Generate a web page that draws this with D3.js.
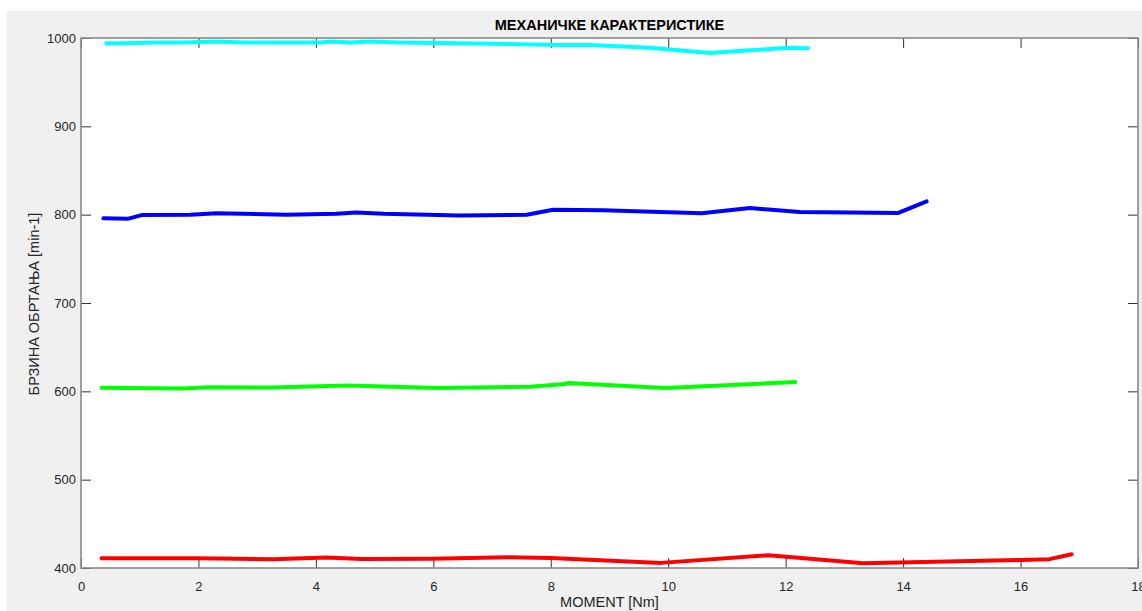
<!DOCTYPE html>
<html>
<head>
<meta charset="utf-8">
<script src="https://cdn.jsdelivr.net/npm/d3@7"></script>
<style>
  html, body { margin: 0; padding: 0; background: #fff; }
  svg { display: block; font-family: "Liberation Sans", Arial, sans-serif; }
</style>
</head>
<body>
<div id="chart"></div>
<script>
// Cyan (top)
const cyanX = [0.43, 0.75, 1.26, 1.77, 2.28, 2.79, 3.56, 4.07, 4.24, 4.58, 4.92, 5.43, 6.45, 7.48, 8.16, 8.67, 9.69, 10.71, 11.39, 12.07, 12.38];
const cyanY = [994, 994, 995, 995, 996, 995, 995, 995, 996, 995, 996, 995, 994, 993, 992, 992, 989, 983, 986, 989, 988.5];
// Blue
const blueX = [0.38, 0.81, 1.03, 1.86, 2.31, 3.50, 4.35, 4.69, 5.15, 6.45, 7.59, 8.04, 8.89, 10.57, 11.39, 12.24, 13.92, 14.40];
const blueY = [796, 795.5, 799.5, 800, 801.5, 800, 801, 802.5, 801, 799, 800, 805.5, 805, 801.5, 807.5, 803, 802, 815];
// Green
const greenX = [0.35, 1.74, 2.18, 3.24, 4.55, 6.09, 7.64, 8.25, 8.29, 9.96, 12.16];
const greenY = [604, 603.3, 604.7, 604.3, 606.5, 603.8, 605.2, 608.3, 609.3, 603.8, 610.5];
// Red
const redX = [0.35, 1.98, 3.27, 4.18, 4.78, 5.96, 7.25, 8.0, 9.88, 11.71, 13.32, 16.01, 16.49, 16.87];
const redY = [411, 411, 410, 412, 410.2, 410.5, 412.2, 411.3, 405.8, 414.5, 405.5, 409, 410, 415.5];

const xTicks = [0, 2, 4, 6, 8, 10, 12, 14, 16, 18];
const yTicks = [400, 500, 600, 700, 800, 900, 1000];

const series = [
  { x: cyanX, y: cyanY, color: '#00ffff' },
  { x: blueX, y: blueY, color: '#0000ff' },
  { x: greenX, y: greenY, color: '#00ff00' },
  { x: redX, y: redY, color: '#ff0000' }
];

const W = 1142, H = 611;
const margin = { top: 38, right: 4, bottom: 43, left: 81 };
const width = W - margin.left - margin.right;
const height = H - margin.top - margin.bottom;

const root = d3.select('#chart').append('svg')
  .attr('width', W)
  .attr('height', H);

// figure background
root.append('rect')
  .attr('x', 7).attr('y', 11)
  .attr('width', W - 7).attr('height', H - 11)
  .attr('fill', '#f0f0f0');

const svg = root.append('g')
  .attr('transform', `translate(${margin.left},${margin.top})`);

svg.append('rect')
  .attr('width', width).attr('height', height)
  .attr('fill', '#fff');

const x = d3.scaleLinear().domain([0, 18]).range([0, width]);
const y = d3.scaleLinear().domain([400, 1000]).range([height, 0]);

const tickColor = '#333';
const labelColor = '#262626';

function styleAxis(g) {
  g.select('.domain').remove();
  g.selectAll('.tick line').attr('stroke', tickColor).attr('stroke-width', 1);
  g.selectAll('.tick text').attr('fill', labelColor).style('font-size', '13px');
}

// bottom
svg.append('g')
  .attr('transform', `translate(0,${height})`)
  .call(d3.axisBottom(x).tickValues(xTicks).tickSize(-10).tickPadding(8))
  .call(styleAxis)
  .call(g => g.selectAll('.tick text').attr('y', 14).attr('dy', '0.71em'));

// top
svg.append('g')
  .call(d3.axisTop(x).tickValues(xTicks).tickSize(-10).tickFormat(''))
  .call(styleAxis);

// left
svg.append('g')
  .call(d3.axisLeft(y).tickValues(yTicks).tickSize(-10).tickFormat(d3.format('d')))
  .call(styleAxis)
  .call(g => g.selectAll('.tick text').attr('x', -5));

// right
svg.append('g')
  .attr('transform', `translate(${width},0)`)
  .call(d3.axisRight(y).tickValues(yTicks).tickSize(-10).tickFormat(''))
  .call(styleAxis);

// box
svg.append('rect')
  .attr('width', width).attr('height', height)
  .attr('fill', 'none')
  .attr('stroke', '#8a8a8a')
  .attr('stroke-width', 1.6);

const line = d3.line()
  .x(d => x(d[0]))
  .y(d => y(d[1]));

series.forEach(s => {
  const pts = s.x.map((v, i) => [v, s.y[i]]);
  svg.append('path')
    .datum(pts)
    .attr('fill', 'none')
    .attr('stroke', s.color)
    .attr('stroke-width', 4)
    .attr('stroke-linejoin', 'round')
    .attr('stroke-linecap', 'round')
    .attr('d', line);
});

// title
svg.append('text')
  .attr('x', width / 2)
  .attr('y', -8)
  .attr('text-anchor', 'middle')
  .style('font-size', '14.5px')
  .style('font-weight', 'bold')
  .attr('fill', '#000')
  .text('МЕХАНИЧКЕ КАРАКТЕРИСТИКЕ');

// x label
svg.append('text')
  .attr('x', width / 2)
  .attr('y', height + 39)
  .attr('text-anchor', 'middle')
  .style('font-size', '14.5px')
  .attr('fill', labelColor)
  .text('MOMENT [Nm]');

// y label
svg.append('text')
  .attr('transform', 'rotate(-90)')
  .attr('x', -(304 - margin.top))
  .attr('y', -margin.left + 39)
  .attr('text-anchor', 'middle')
  .style('font-size', '14.5px')
  .attr('fill', labelColor)
  .text('БРЗИНА ОБРТАЊА [min-1]');
</script>
</body>
</html>
